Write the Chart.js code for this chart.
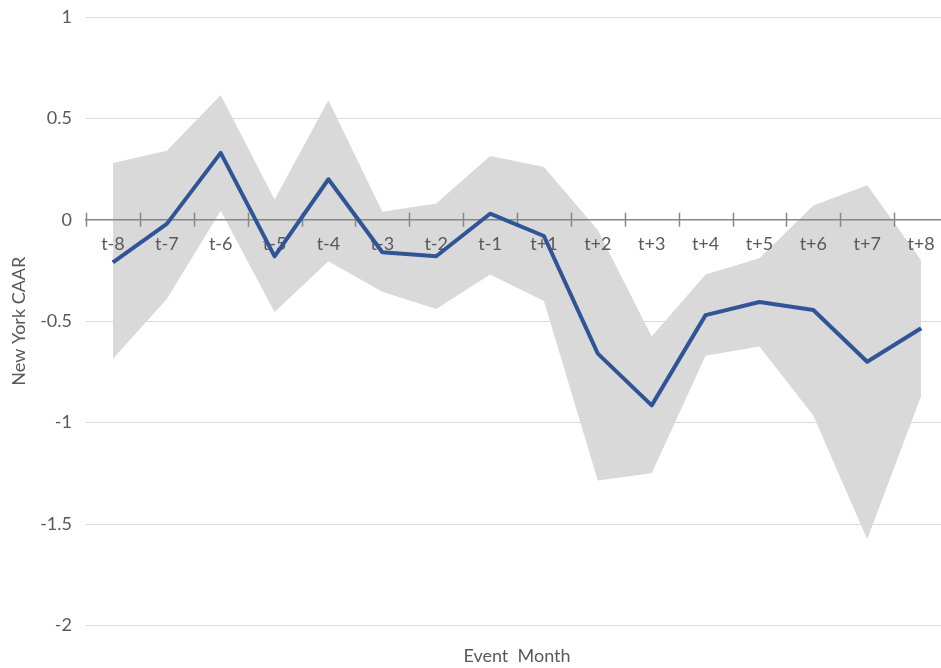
<!DOCTYPE html>
<html>
<head>
<meta charset="utf-8">
<title>New York CAAR</title>
<script src="https://cdn.jsdelivr.net/npm/chart.js@4.4.0/dist/chart.umd.min.js"></script>
<style>
  html, body { margin: 0; padding: 0; overflow: hidden; background: #fff; }
  canvas { display: block; }
</style>
</head>
<body>
<canvas id="caar-chart" width="948" height="668"></canvas>
<script>
// values
const months = ['t-8', 't-7', 't-6', 't-5', 't-4', 't-3', 't-2', 't-1',
                't+1', 't+2', 't+3', 't+4', 't+5', 't+6', 't+7', 't+8'];
const caar = [-0.21, -0.02, 0.33, -0.18, 0.20, -0.16, -0.18, 0.03,
              -0.08, -0.66, -0.915, -0.47, -0.405, -0.445, -0.70, -0.535];
const upperBand = [0.28, 0.34, 0.615, 0.10, 0.59, 0.04, 0.08, 0.315,
                   0.26, -0.05, -0.575, -0.27, -0.19, 0.07, 0.17, -0.20];
const lowerBand = [-0.685, -0.39, 0.045, -0.455, -0.205, -0.355, -0.44, -0.27,
                   -0.40, -1.285, -1.25, -0.67, -0.625, -0.965, -1.575, -0.87];
const yTicks = [-2, -1.5, -1, -0.5, 0, 0.5, 1];

const textGrey = '#595959';
const font = { family: 'Lato', size: 18 };

// tick marks that cross the zero axis, plus the mean line redrawn on top of the labels
const crossTicks = {
    id: 'crossTicks',
    afterDraw(chart) {
        const x = chart.scales.x;
        const y0 = chart.scales.y.getPixelForValue(0);
        const ctx = chart.ctx;
        ctx.save();
        ctx.strokeStyle = '#868686';
        ctx.lineWidth = 1.5;
        ctx.beginPath();
        for (let i = 0; i <= months.length; i++) {
            const px = Math.round(x.getPixelForValue(i - 0.5)) + 0.5;
            ctx.moveTo(px, y0 - 7);
            ctx.lineTo(px, y0 + 7);
        }
        ctx.stroke();
        ctx.restore();
        chart.getDatasetMeta(2).controller.draw();
    }
};

const ctx = document.getElementById('caar-chart').getContext('2d');
new Chart(ctx, {
    type: 'line',
    data: {
        labels: months,
        datasets: [
            {
                label: 'Upper',
                data: upperBand,
                fill: '+1',
                backgroundColor: '#d9d9d9',
                borderColor: 'rgba(0,0,0,0)',
                borderWidth: 0,
                pointRadius: 0,
                tension: 0
            },
            {
                label: 'Lower',
                data: lowerBand,
                fill: false,
                borderColor: 'rgba(0,0,0,0)',
                borderWidth: 0,
                pointRadius: 0,
                tension: 0
            },
            {
                label: 'New York CAAR',
                data: caar,
                fill: false,
                borderColor: '#2f5597',
                borderWidth: 4,
                pointRadius: 0,
                tension: 0,
                borderJoinStyle: 'round'
            }
        ]
    },
    options: {
        responsive: false,
        animation: false,
        layout: { padding: { left: 0, right: 0, top: 17, bottom: 0 } },
        plugins: {
            legend: { display: false },
            tooltip: { enabled: false },
            title: {
                display: true,
                text: 'Event  Month',
                position: 'bottom',
                fullSize: false,
                color: textGrey,
                font: { family: 'Lato', size: 18, weight: 'normal' },
                padding: { top: 20, bottom: 1 }
            }
        },
        scales: {
            x: {
                type: 'category',
                position: { y: 0 },
                offset: true,
                grid: { display: false },
                border: { display: true, color: '#868686', width: 1.5, z: 1 },
                ticks: { color: textGrey, font: font, padding: 6, maxRotation: 0, autoSkip: false, z: 1 }
            },
            y: {
                min: -2,
                max: 1,
                afterFit(scale) {
                    scale.width = 86;
                    scale.paddingTop = 0;
                    scale.paddingBottom = 0;
                },
                afterBuildTicks(scale) { scale.ticks = yTicks.map(v => ({ value: v })); },
                grid: { color: '#d9d9d9', lineWidth: 1, drawTicks: false },
                border: { display: false },
                ticks: { color: textGrey, font: font, padding: 14, callback: v => String(v) },
                title: {
                    display: true,
                    text: 'New York CAAR',
                    color: textGrey,
                    font: font,
                    padding: { top: 8, bottom: 4 }
                }
            }
        }
    },
    plugins: [crossTicks]
});
</script>
</body>
</html>
